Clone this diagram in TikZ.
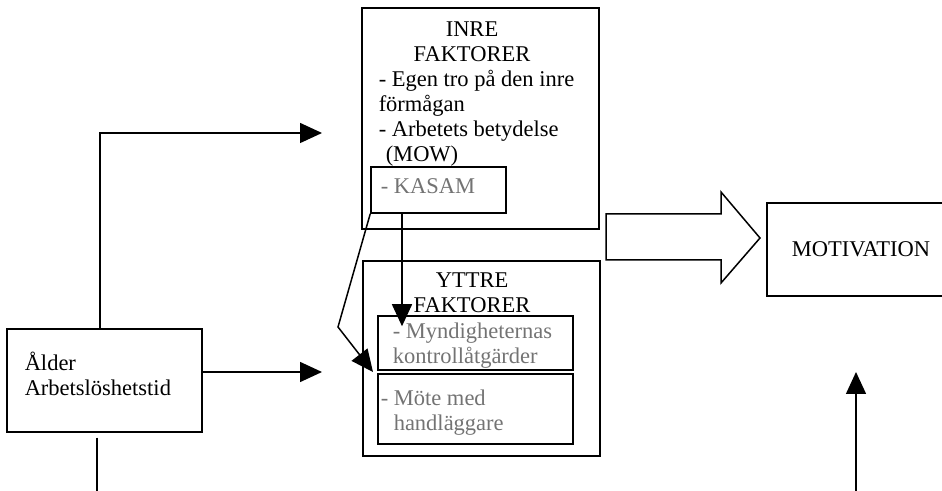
\documentclass[tikz,border=0pt]{standalone}
\usepackage{fontspec}
\setmainfont{Liberation Serif}
\usetikzlibrary{arrows.meta}

\begin{document}
\begin{tikzpicture}[
				x=0.5pt, y=-0.5pt,
				>={Triangle[length=11pt,width=10pt]},
				line width=0.75pt,
				font=\fontsize{11.25pt}{12.5pt}\selectfont,
				box/.style={
					draw,
					inner sep=0pt
				},
				txt/.style={
					inner sep=0pt,
					align=left,
					anchor=base west
				},
				head/.style={
					inner sep=0pt,
					align=center,
					anchor=base
				},
				faint/.style={
					txt,
					text=black!55
				}
				]

				\useasboundingbox (0,0) rectangle (942,491);
				\clip (0,0) rectangle (942,491);

				%------------------------------------------------
				% INNER FACTORS
				%------------------------------------------------

				\node[box, minimum width=118.5pt, minimum height=110.5pt] (inre) at (480.5,118.5) {};

				\node[head] (inreHead) at (472,62) {INRE\\FAKTORER};

				\node[txt] (inreText) at (378,162)
				{- Egen tro på den inre\\förmågan\\- Arbetets betydelse\\\hspace*{3.5pt}(MOW)};

				\node[box, minimum width=67.5pt, minimum height=23pt] (kasam) at (438.5,190) {};

				\node[faint] (kasamText) at (380,194) {- KASAM};

				%------------------------------------------------
				% OUTER FACTORS
				%------------------------------------------------

				\node[box, minimum width=118.5pt, minimum height=97.5pt] (yttre) at (481.5,358.5) {};

				\node[head] (yttreHead) at (472,313) {YTTRE\\FAKTORER};

				\node[box, minimum width=97.5pt, minimum height=27pt] (myndig) at (475.5,343) {};

				\node[faint] (myndigText) at (392,364) {- Myndigheternas\\kontrollåtgärder};

				\node[box, minimum width=97.5pt, minimum height=35pt] (mote) at (475.5,409) {};

				\node[faint] (moteText) at (380,430) {- Möte med\\\hspace*{6.5pt}handläggare};

				%------------------------------------------------
				% AGE BOX AND MOTIVATION
				%------------------------------------------------

				\node[box, minimum width=97.5pt, minimum height=51.5pt] (alder) at (104.5,380.5) {};

				\node[txt] (alderText) at (24,395) {Ålder\\Arbetslöshetstid};

				\node[box, minimum width=94pt, minimum height=46.5pt] (motiv) at (861,249.5) {MOTIVATION};

				%------------------------------------------------
				% BLOCK ARROW
				%------------------------------------------------

				\draw (606,214) -- (721,214) -- (721,192) -- (760,238)
				-- (721,283) -- (721,260) -- (606,260) -- cycle;

				%------------------------------------------------
				% CONNECTORS
				%------------------------------------------------

				\coordinate (inreIn) at (322,133);
				\coordinate (yttreIn) at (322,372);
				\coordinate (alderOut) at (97,500);
				\coordinate (motivIn) at (856,372);
				\coordinate (motivFrom) at (856,500);
				\coordinate (bend) at (338,327);
				\coordinate (myndigIn) at (373,372);

				\draw[->]
				([xshift=-2.25pt]alder.north)
				|- (inreIn);

				\draw[->]
				([yshift=4.25pt]alder.east)
				-- (yttreIn);

				\draw
				([xshift=-3.75pt,yshift=-2.5pt]alder.south)
				-- (alderOut);

				\draw[->]
				(motivFrom)
				-- (motivIn);

				\draw[->]
				([xshift=-18.25pt]kasam.south)
				-- ([xshift=-36.75pt,yshift=-5.5pt]myndig.north);

				\draw[->]
				(kasam.south west)
				-- (bend)
				-- (myndigIn);

			\end{tikzpicture}
\end{document}
